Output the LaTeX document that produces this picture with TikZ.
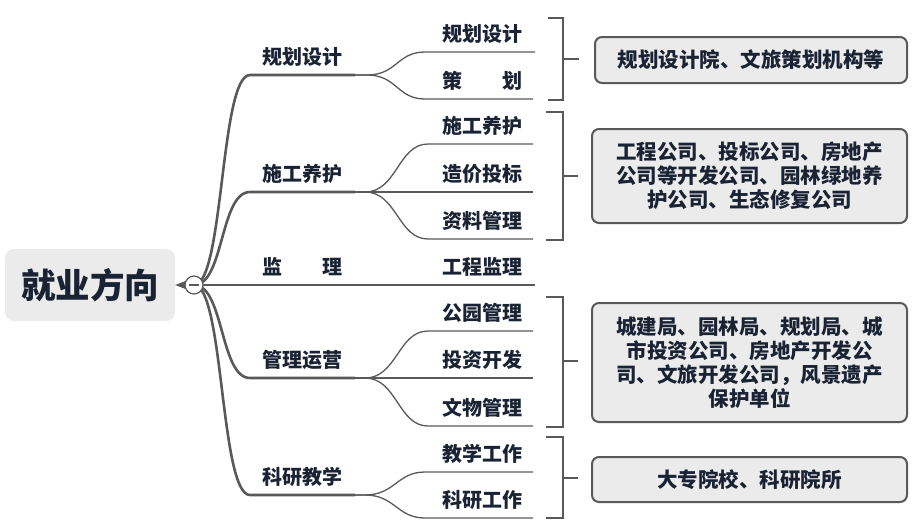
\documentclass[tikz,border=0pt]{standalone}
\usepackage{fontspec}
\newfontfamily\cjk{Noto Sans CJK SC}
\usetikzlibrary{calc}
\definecolor{txt}{HTML}{1A2334}
\definecolor{ln}{HTML}{595959}
\definecolor{bg}{HTML}{EBEBEB}
\begin{document}
\begin{tikzpicture}[x=1pt,y=-1pt,
  lab/.style={font=\cjk\bfseries\fontsize{20}{22}\selectfont, text=txt, inner sep=0pt},
  mainln/.style={draw=ln, line width=2.6pt},
  subln/.style={draw=ln, line width=1.3pt},
  brk/.style={draw=ln, line width=2.4pt},
  info/.style={draw=ln, fill=bg, line width=2pt, rounded corners=7pt, align=center,
    font=\cjk\bfseries\fontsize{20.5}{24}\selectfont, text=txt, inner sep=0pt}]
\useasboundingbox (0,0) rectangle (912,531);

% root
\node[fill=bg, rounded corners=9pt, minimum width=170pt, minimum height=72pt, inner sep=0pt,
  font=\cjk\bfseries\fontsize{34.5}{38}\selectfont, text=txt] (root) at (90,285) {就业方向};

% level-1 coordinates
\coordinate (A0) at (250,75);  \coordinate (A1) at (355,75);
\coordinate (B0) at (250,192); \coordinate (B1) at (355,192);
\coordinate (C1) at (355,285);
\coordinate (D0) at (250,378); \coordinate (D1) at (355,378);
\coordinate (E0) at (250,495); \coordinate (E1) at (355,495);

\coordinate (hubc) at (194,285);

% main branches
\draw[mainln] (hubc) .. controls +(30,0) and +(-30,0) .. (A0) -- (A1);
\draw[mainln] (hubc) .. controls +(30,0) and +(-30,0) .. (B0) -- (B1);
\draw[mainln] (hubc) -- (C1);
\draw[mainln] (hubc) .. controls +(30,0) and +(-30,0) .. (D0) -- (D1);
\draw[mainln] (hubc) .. controls +(30,0) and +(-30,0) .. (E0) -- (E1);

% connector from root to hub
\fill[ln] (root.east) -- ($(hubc)+(-6,-5)$) -- ($(hubc)+(-6,5)$) -- cycle;
\node[circle, draw=ln, fill=white, line width=1.2pt, minimum size=18pt, inner sep=0pt] (hub) at (hubc) {};
\draw[ln, line width=1.2pt] ($(hub.center)+(-5,0)$) -- ($(hub.center)+(5,0)$);

% level-1 labels
\node[lab] (ta) at (302,57) {规划设计};
\node[lab] (tb) at (302,174) {施工养护};
\node[lab] (tc) at (302,267) {监\hspace{2em}理};
\node[lab] (td) at (302,360) {管理运营};
\node[lab] (te) at (302,477) {科研教学};

% level-2 coordinates
\coordinate (A2s) at (425,52);  \coordinate (A2e) at (535,52);
\coordinate (A3s) at (425,99);  \coordinate (A3e) at (533,99);
\coordinate (B2s) at (428,144); \coordinate (B2e) at (533,144);
\coordinate (B3e) at (533,192);
\coordinate (B4s) at (428,239); \coordinate (B4e) at (533,239);
\coordinate (C2e) at (535,285);
\coordinate (D2s) at (428,331); \coordinate (D2e) at (533,331);
\coordinate (D3e) at (533,378);
\coordinate (D4s) at (428,426); \coordinate (D4e) at (533,426);
\coordinate (E2s) at (425,472); \coordinate (E2e) at (533,472);
\coordinate (E3s) at (425,518); \coordinate (E3e) at (533,518);

% level-2 connectors
\draw[subln] (A1) -- ++(12,0) .. controls +(30,0) and +(-28,0) .. (A2s) -- (A2e);
\draw[subln] (A1) -- ++(12,0) .. controls +(30,0) and +(-28,0) .. (A3s) -- (A3e);
\draw[subln] (B1) -- ++(10,0) .. controls +(32,0) and +(-30,0) .. (B2s) -- (B2e);
\draw[subln] (B1) -- (B3e);
\draw[subln] (B1) -- ++(10,0) .. controls +(32,0) and +(-30,0) .. (B4s) -- (B4e);
\draw[subln] (C1) -- (C2e);
\draw[subln] (D1) -- ++(10,0) .. controls +(32,0) and +(-30,0) .. (D2s) -- (D2e);
\draw[subln] (D1) -- (D3e);
\draw[subln] (D1) -- ++(10,0) .. controls +(32,0) and +(-30,0) .. (D4s) -- (D4e);
\draw[subln] (E1) -- ++(10,0) .. controls +(30,0) and +(-28,0) .. (E2s) -- (E2e);
\draw[subln] (E1) -- ++(10,0) .. controls +(30,0) and +(-28,0) .. (E3s) -- (E3e);

% level-2 labels
\node[lab] (a2) at (482,34) {规划设计};
\node[lab] (a3) at (482,81) {策\hspace{2em}划};
\node[lab] (b2) at (482,126) {施工养护};
\node[lab] (b3) at (482,174) {造价投标};
\node[lab] (b4) at (482,221) {资料管理};
\node[lab] (c2) at (482,267) {工程监理};
\node[lab] (d2) at (482,313) {公园管理};
\node[lab] (d3) at (482,360) {投资开发};
\node[lab] (d4) at (482,408) {文物管理};
\node[lab] (e2) at (482,454) {教学工作};
\node[lab] (e3) at (482,500) {科研工作};

% brackets
\draw[brk] (548,18) -- (563,18) -- (563,100) -- (548,100);
\draw[brk] (563,59) -- (579,59);
\draw[brk] (546,112) -- (563,112) -- (563,240) -- (546,240);
\draw[brk] (563,176) -- (578,176);
\draw[brk] (546,297) -- (563,297) -- (563,427) -- (546,427);
\draw[brk] (563,361) -- (578,361);
\draw[brk] (546,437) -- (563,437) -- (563,518) -- (546,518);
\draw[brk] (563,478) -- (578,478);

% info boxes
\node[info, minimum width=312pt, minimum height=46pt] (x1) at (751,60) {规划设计院、文旅策划机构等};
\node[info, minimum width=315pt, minimum height=94pt] (x2) at (749.5,176) {工程公司、投标公司、房地产\\公司等开发公司、园林绿地养\\护公司、生态修复公司};
\node[info, minimum width=315pt, minimum height=119pt] (x3) at (749.5,362.5) {城建局、园林局、规划局、城\\市投资公司、房地产开发公\\司、文旅开发公司，风景遗产\\保护单位};
\node[info, minimum width=315pt, minimum height=45pt] (x4) at (749.5,479.5) {大专院校、科研院所};
\end{tikzpicture}
\end{document}
